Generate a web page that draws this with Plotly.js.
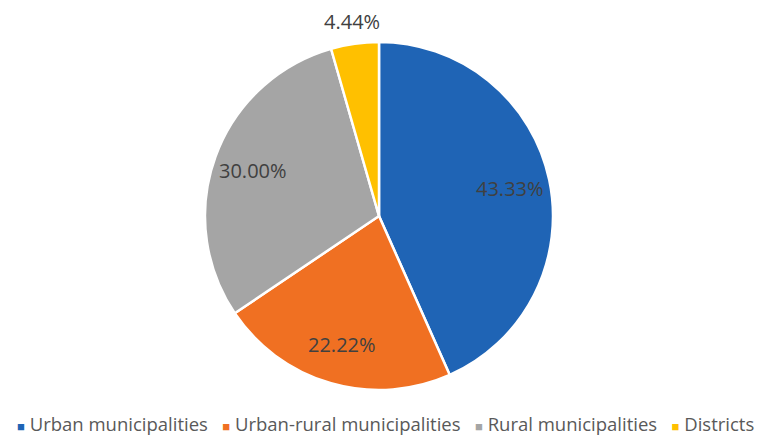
<!DOCTYPE html>
<html><head><meta charset="utf-8">
<script src="https://cdn.plot.ly/plotly-3.0.1.min.js"></script>
<style>html,body{margin:0;padding:0;background:#fff}</style>
</head><body>
<div id="chart" style="width:764px;height:436px"></div>
<script>
const categories = ["Urban municipalities", "Urban-rural municipalities", "Rural municipalities", "Districts"];
const shares = [43.33, 22.22, 30.00, 4.44];
const colors = ["#1F64B5", "#F07022", "#A5A5A5", "#FFC000"];
const labelOutside = [false, false, false, true];

const W = 764, H = 436;
const CX = 379, CY = 216, R = 174;

const trace = {
  type: "pie",
  labels: categories,
  values: shares,
  sort: false,
  direction: "clockwise",
  rotation: 0,
  domain: {x: [(CX - R) / W, (CX + R) / W], y: [(H - CY - R) / H, (H - CY + R) / H]},
  marker: {colors: colors, line: {color: "#ffffff", width: 2.5}},
  textinfo: "none",
  hoverinfo: "label+percent"
};

// data labels placed along each slice's mid-angle (computed from the values)
const total = shares.reduce((a, b) => a + b, 0);
let cum = 0;
const annotations = shares.map((v, i) => {
  const mid = (cum + v / 2) / total * 2 * Math.PI;
  cum += v;
  const r = labelOutside[i] ? R + 22 : R * 0.77;
  const px = CX + r * Math.sin(mid);
  const py = CY - r * Math.cos(mid);
  return {
    xref: "paper", yref: "paper", x: px / W, y: 1 - py / H,
    xanchor: "center", yanchor: "middle", showarrow: false,
    text: v.toFixed(2) + "%",
    font: {family: "Open Sans", size: 20, color: "#404040"}
  };
});

// legend row (one line, like the original)
const legendText = categories.map((c, i) =>
  '<span style="color:' + colors[i] + ';font-size:13px">■</span> ' + c
).join('\u00a0\u00a0\u00a0');
annotations.push({
  xref: "paper", yref: "paper", x: 386 / W, y: 1 - 423 / H,
  xanchor: "center", yanchor: "middle", showarrow: false, borderpad: 0,
  text: legendText,
  font: {family: "Open Sans", size: 18.5, color: "#595959"}
});

const layout = {
  width: W, height: H,
  margin: {l: 0, r: 0, t: 0, b: 0},
  paper_bgcolor: "#ffffff",
  showlegend: false,
  annotations: annotations
};

Plotly.newPlot("chart", [trace], layout, {displayModeBar: false});
</script>
</body></html>
